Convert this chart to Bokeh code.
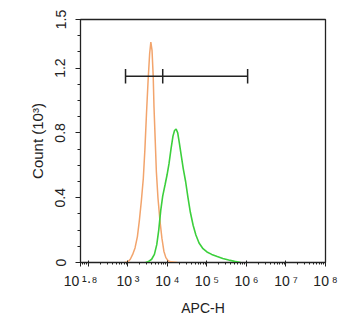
import numpy as np
from bokeh.plotting import figure
from bokeh.models import FixedTicker, Range1d
from bokeh.embed import file_html
from bokeh.resources import INLINE

# ---- data (log10 of APC-H, count in 10^3) ----
orange_log_apc = [2.92, 3.00, 3.06, 3.12, 3.18, 3.24, 3.29, 3.34, 3.39, 3.43, 3.47, 3.51,
                  3.55, 3.58, 3.61, 3.64, 3.66, 3.69, 3.72, 3.76, 3.81, 3.86, 3.91, 3.96,
                  4.02, 4.10, 4.25]
orange_count = [0.0, 0.005, 0.02, 0.05, 0.09, 0.16, 0.26, 0.38, 0.52, 0.70, 0.92, 1.12,
                1.29, 1.36, 1.31, 1.15, 0.96, 0.76, 0.56, 0.40, 0.26, 0.15, 0.07, 0.03,
                0.01, 0.004, 0.0]

green_log_apc = [3.45, 3.52, 3.60, 3.67, 3.73, 3.78, 3.83, 3.88, 3.94, 3.99, 4.04, 4.09,
                 4.14, 4.18, 4.22, 4.26, 4.30, 4.35, 4.40, 4.46, 4.52, 4.58, 4.65, 4.72,
                 4.80, 4.90, 5.00, 5.12, 5.26, 5.40, 5.55, 5.70, 5.85]
green_count = [0.0, 0.006, 0.02, 0.05, 0.11, 0.20, 0.32, 0.41, 0.48, 0.54, 0.61, 0.70,
               0.78, 0.815, 0.824, 0.80, 0.74, 0.66, 0.58, 0.50, 0.40, 0.31, 0.23, 0.17,
               0.12, 0.085, 0.065, 0.05, 0.037, 0.025, 0.015, 0.007, 0.0]

gate_x = [870, 7600, 1.07e6]
gate_y = 1.15
gate_cap = 0.045

x_tick_exp = [1.8, 2, 3, 4, 5, 6, 7, 8]
x_tick_labels = ["10\u2009¹·⁸", " ", "10\u2009³", "10\u2009⁴", "10\u2009⁵",
                 "10\u2009⁶", "10\u2009⁷", "10\u2009⁸"]
y_ticks = [0, 0.4, 0.8, 1.2, 1.5]
y_tick_labels = ["0", "0.4", "0.8", "1.2", "1.5"]
y_minor = [0.1, 0.2, 0.3, 0.5, 0.6, 0.7, 0.9, 1.0, 1.1, 1.3, 1.4]

FONT = "Liberation Sans"

p = figure(width=345, height=318, x_axis_type="log",
           x_range=Range1d(10 ** 1.8, 1e8), y_range=Range1d(0, 1.5),
           output_backend="svg", toolbar_location=None,
           min_border_left=80, min_border_right=20, min_border_top=19, min_border_bottom=55)
p.background_fill_color = "white"
p.border_fill_color = "white"
p.outline_line_color = "#222222"
p.outline_line_width = 1.3
p.xgrid.visible = False
p.ygrid.visible = False

p.line([10 ** v for v in orange_log_apc], orange_count, line_color="#f2a46c", line_width=1.5)
p.line([10 ** v for v in green_log_apc], green_count, line_color="#3ccf3c", line_width=1.6)

# gate bar
p.segment(x0=[gate_x[0]], y0=[gate_y], x1=[gate_x[-1]], y1=[gate_y], line_color="#222222", line_width=1.5)
p.segment(x0=gate_x, y0=[gate_y - gate_cap] * 3, x1=gate_x, y1=[gate_y + gate_cap] * 3,
          line_color="#222222", line_width=1.5)

# x axis
x_ticks = [10 ** e for e in x_tick_exp]
xminor = [m * 10 ** k for k in range(1, 8) for m in range(2, 10)]
p.xaxis.ticker = FixedTicker(ticks=x_ticks, minor_ticks=xminor)
p.xaxis.major_label_overrides = dict(zip(x_ticks, x_tick_labels))
p.xaxis.major_label_text_font = FONT
p.xaxis.major_label_text_font_size = "14px"
p.xaxis.major_label_text_color = "#222222"
p.xaxis.major_label_standoff = 6
p.xaxis.axis_label = "APC-H"
p.xaxis.axis_label_text_font = FONT
p.xaxis.axis_label_text_font_size = "14px"
p.xaxis.axis_label_text_font_style = "normal"
p.xaxis.axis_label_text_color = "#222222"
p.xaxis.axis_label_standoff = 8
p.xaxis.major_tick_out = 4
p.xaxis.major_tick_in = 2
p.xaxis.minor_tick_out = 2
p.xaxis.minor_tick_in = 0

# y axis
p.yaxis.ticker = FixedTicker(ticks=y_ticks, minor_ticks=y_minor)
p.yaxis.major_label_overrides = dict(zip(y_ticks, y_tick_labels))
p.yaxis.major_label_orientation = "vertical"
p.yaxis.major_label_text_font = FONT
p.yaxis.major_label_text_font_size = "14px"
p.yaxis.major_label_text_color = "#222222"
p.yaxis.major_label_standoff = 10
p.yaxis.axis_label = "Count (10³)"
p.yaxis.axis_label_text_font = FONT
p.yaxis.axis_label_text_font_size = "15px"
p.yaxis.axis_label_text_font_style = "normal"
p.yaxis.axis_label_text_color = "#222222"
p.yaxis.axis_label_standoff = 7
p.yaxis.major_tick_out = 5
p.yaxis.major_tick_in = 0
p.yaxis.minor_tick_out = 3
p.yaxis.minor_tick_in = 0

for ax in (p.xaxis, p.yaxis):
    ax.axis_line_color = "#222222"
    ax.major_tick_line_color = "#222222"
    ax.minor_tick_line_color = "#222222"

open("out.html", "w").write(file_html(p, INLINE))
